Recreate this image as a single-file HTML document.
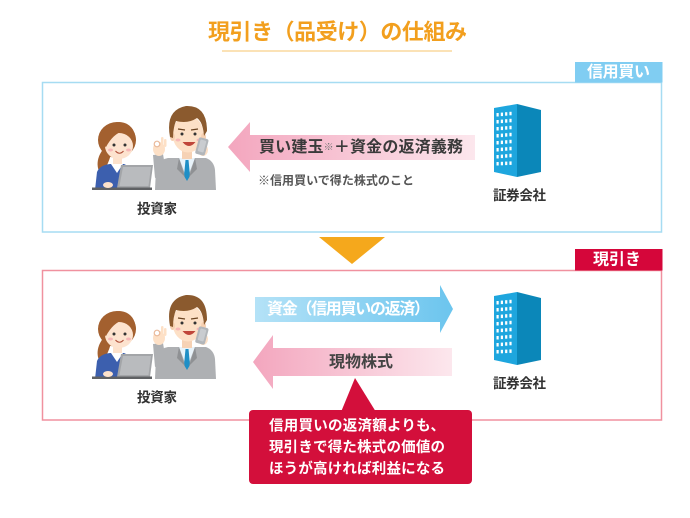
<!DOCTYPE html>
<html><head><meta charset="utf-8">
<style>
html,body{margin:0;padding:0;background:#fff;}
svg{display:block;}
text{font-family:"Liberation Sans","Noto Sans CJK JP",sans-serif;font-weight:bold;}
</style></head><body>
<svg width="690" height="518" viewBox="0 0 690 518" xmlns="http://www.w3.org/2000/svg">
<defs>
<linearGradient id="pk" x1="0" x2="1" y1="0" y2="0"><stop offset="0" stop-color="#f3a6be"/><stop offset="1" stop-color="#fce7ed"/></linearGradient>
<linearGradient id="bl" x1="0" x2="1" y1="0" y2="0"><stop offset="0" stop-color="#b4e2f7"/><stop offset="1" stop-color="#6cc5ee"/></linearGradient>
<g id="people">
  <!-- woman -->
  <path d="M106,146 C97,155 95,166 101,175 C105,170 109,162 111,154 Z" fill="#a3602f"/>
  <ellipse cx="117" cy="140" rx="19" ry="18" fill="#a3602f"/>
  <path d="M95,190 L97,172 Q100,165 110,164 L124,164 Q129,166 129,173 L129,190 Z" fill="#3c5fae"/>
  <rect x="113" y="156" width="9" height="9" fill="#fde2cc"/>
  <path d="M111,164 L117,173 L123,164 Z" fill="#ffffff"/>
  <ellipse cx="119" cy="146" rx="14" ry="13" fill="#fde3cf"/>
  <path d="M101,144 Q103,123 119,122 Q135,123 136,141 Q131,133 123,131 Q113,134 106,147 Z" fill="#a3602f"/>
  <circle cx="114" cy="145" r="1.5" fill="#333"/>
  <circle cx="125" cy="145" r="1.5" fill="#333"/>
  <ellipse cx="110.5" cy="150" rx="2.5" ry="1.5" fill="#f7b7b7"/>
  <ellipse cx="128.5" cy="150" rx="2.5" ry="1.5" fill="#f7b7b7"/>
  <path d="M115.5,151 Q119.5,155.5 123.5,151" stroke="#b0503a" stroke-width="1.1" fill="none"/>
  <polygon points="121,165 153,165 150,188 117,188" fill="#a3a5a8"/>
  <polygon points="123,167 151,167 148.5,186 119.5,186" fill="#b9bbbe"/>
  <rect x="92" y="187.5" width="60" height="2.5" fill="#5f6164"/>
  <ellipse cx="108" cy="185" rx="5" ry="3" fill="#fde2cc"/>
  <!-- man -->
  <path d="M155,190 L156,168 Q158,160 168,158 L206,158 Q214,161 215,170 L216,190 Z" fill="#aeb0b3"/>
  <polygon points="179,158 195,158 187,179" fill="#e8f3fa"/>
  <polygon points="185.5,160 188.5,160 190,176 187,181 184,176" fill="#1f8fc6"/>
  <path d="M179,158 L185,177 L177,169 Z" fill="#8f9194"/>
  <path d="M195,158 L189,177 L197,169 Z" fill="#8f9194"/>
  <rect x="182" y="149" width="10" height="10" fill="#f6d2b5"/>
  <path d="M155,178 L153,155 L163,154 L166,172 Z" fill="#aeb0b3"/>
  <ellipse cx="159" cy="149" rx="6" ry="7" fill="#fde0c6"/>
  <circle cx="157" cy="144" r="2.8" fill="#fff" stroke="#e9b99a" stroke-width="1.2"/>
  <rect x="161" y="137" width="2.5" height="8" rx="1.2" fill="#fde0c6"/>
  <rect x="164" y="139" width="2.5" height="8" rx="1.2" fill="#fde0c6"/>
  <ellipse cx="188" cy="134" rx="15.5" ry="18.5" fill="#fde0c6"/>
  <ellipse cx="172.5" cy="137" rx="2.5" ry="4" fill="#f6d0b2"/>
  <ellipse cx="203.5" cy="137" rx="2.5" ry="4" fill="#f6d0b2"/>
  <path d="M170,137 Q165,110 186,106 Q207,105 207,131 L204,136 Q203,122 197,118 Q188,124 176,121 Q173,128 173,138 Z" fill="#8b5a2e"/>
  <path d="M178,129 L185,130" stroke="#6b4422" stroke-width="1.2"/>
  <path d="M191,130 L198,129" stroke="#6b4422" stroke-width="1.2"/>
  <circle cx="182" cy="134" r="1.5" fill="#333"/>
  <circle cx="195" cy="134" r="1.5" fill="#333"/>
  <ellipse cx="178" cy="140" rx="2.5" ry="1.5" fill="#f7b7b7"/>
  <ellipse cx="199" cy="140" rx="2.5" ry="1.5" fill="#f7b7b7"/>
  <path d="M182.5,142 Q189,150 195.5,142 Z" fill="#c0463a"/>
  <ellipse cx="203" cy="150" rx="5" ry="6" fill="#fde0c6"/>
  <rect x="197" y="138" width="10" height="17" rx="2" fill="#b2b6ba" transform="rotate(15 202 146)"/>
  <rect x="199" y="140" width="6" height="12" rx="1" fill="#c9ccd0" transform="rotate(15 202 146)"/>
</g>
<g id="bldg">
  <polygon points="494,108 517,104 517,177 494,172" fill="#1ea6de"/>
  <polygon points="517,104 541,110 541,172 517,177" fill="#0b87b9"/>
  <g fill="#ffffff">
    <rect x="496.5" y="113" width="2.2" height="3.5"/><rect x="500.8" y="112.6" width="2.2" height="3.5"/><rect x="505.1" y="112.2" width="2.2" height="3.5"/><rect x="509.4" y="111.8" width="2.2" height="3.5"/>
    <rect x="496.5" y="120" width="2.2" height="3.5"/><rect x="500.8" y="119.6" width="2.2" height="3.5"/><rect x="505.1" y="119.2" width="2.2" height="3.5"/><rect x="509.4" y="118.8" width="2.2" height="3.5"/>
    <rect x="496.5" y="127" width="2.2" height="3.5"/><rect x="500.8" y="126.6" width="2.2" height="3.5"/><rect x="505.1" y="126.2" width="2.2" height="3.5"/><rect x="509.4" y="125.8" width="2.2" height="3.5"/>
    <rect x="496.5" y="134" width="2.2" height="3.5"/><rect x="500.8" y="133.6" width="2.2" height="3.5"/><rect x="505.1" y="133.2" width="2.2" height="3.5"/><rect x="509.4" y="132.8" width="2.2" height="3.5"/>
    <rect x="496.5" y="141" width="2.2" height="3.5"/><rect x="500.8" y="140.6" width="2.2" height="3.5"/><rect x="505.1" y="140.2" width="2.2" height="3.5"/><rect x="509.4" y="139.8" width="2.2" height="3.5"/>
    <rect x="496.5" y="148" width="2.2" height="3.5"/><rect x="500.8" y="147.6" width="2.2" height="3.5"/><rect x="505.1" y="147.2" width="2.2" height="3.5"/><rect x="509.4" y="146.8" width="2.2" height="3.5"/>
    <rect x="496.5" y="155" width="2.2" height="3.5"/><rect x="500.8" y="154.6" width="2.2" height="3.5"/><rect x="505.1" y="154.2" width="2.2" height="3.5"/><rect x="509.4" y="153.8" width="2.2" height="3.5"/>
    <rect x="496.5" y="162" width="2.2" height="3.5"/><rect x="500.8" y="161.8" width="2.2" height="3.5"/><rect x="505.1" y="161.6" width="2.2" height="3.5"/><rect x="509.4" y="161.4" width="2.2" height="3.5"/>
  </g>
</g>
</defs>

<!-- Title -->
<text x="337.5" y="32" text-anchor="middle" dominant-baseline="central" font-size="22" fill="#f29f1e" textLength="259">現引き（品受け）の仕組み</text>
<line x1="222" y1="51" x2="452" y2="51" stroke="#f7c46c" stroke-width="1"/>

<!-- Box 1 -->
<rect x="42.5" y="82.5" width="619" height="149.5" fill="#ffffff" stroke="#a6dcf2" stroke-width="1.5"/>
<rect x="575" y="62" width="87.5" height="20.5" fill="#80cdf2"/>
<text x="618.5" y="72.5" text-anchor="middle" dominant-baseline="central" font-size="16" fill="#ffffff" textLength="63">信用買い</text>

<polygon points="228,147 250,122 250,135 475,135 475,160 250,160 250,172" fill="url(#pk)"/>
<text x="259" y="147.5" dominant-baseline="central" font-size="16" fill="#3a3a3a" textLength="204">買い建玉<tspan font-size="10" font-weight="normal" fill="#777">※</tspan>＋資金の返済義務</text>
<text x="258" y="180.5" dominant-baseline="central" font-size="12" fill="#555555" textLength="156">※信用買いで得た株式のこと</text>

<use href="#people"/>
<text x="157" y="209" text-anchor="middle" dominant-baseline="central" font-size="13.5" fill="#333333" textLength="40">投資家</text>

<use href="#bldg"/>
<text x="519.5" y="195.5" text-anchor="middle" dominant-baseline="central" font-size="13.5" fill="#333333" textLength="53">証券会社</text>

<!-- Orange arrow -->
<polygon points="319,237 385,237 352,264" fill="#f5a81c"/>

<!-- Box 2 -->
<rect x="42.5" y="270.5" width="619" height="149.5" fill="#ffffff" stroke="#f0919f" stroke-width="1.5"/>
<rect x="575" y="249" width="87.5" height="21.5" fill="#d5063a"/>
<text x="617" y="260" text-anchor="middle" dominant-baseline="central" font-size="16" fill="#ffffff" textLength="48">現引き</text>

<polygon points="255,297 440,297 440,285 453,309 440,333 440,322 255,322" fill="url(#bl)"/>
<text x="267" y="309.5" dominant-baseline="central" font-size="16" fill="#ffffff" textLength="163">資金（信用買いの返済）</text>

<polygon points="253,362 273,335 273,348 452,348 452,376 273,376 273,389" fill="url(#pk)"/>
<text x="361" y="362.5" text-anchor="middle" dominant-baseline="central" font-size="16" fill="#444444" textLength="64">現物株式</text>

<use href="#people" transform="translate(0,189)"/>
<text x="157" y="397.5" text-anchor="middle" dominant-baseline="central" font-size="13.5" fill="#333333" textLength="40">投資家</text>

<use href="#bldg" transform="translate(0,188)"/>
<text x="519.5" y="383.5" text-anchor="middle" dominant-baseline="central" font-size="13.5" fill="#333333" textLength="53">証券会社</text>

<!-- Callout -->
<polygon points="341,412 355,378 376,412" fill="#d30f3b"/>
<rect x="249" y="410" width="223" height="74" rx="4" fill="#d30f3b"/>
<text x="269" y="426.5" dominant-baseline="central" font-size="14.5" fill="#ffffff" textLength="176">信用買いの返済額よりも、</text>
<text x="269" y="448" dominant-baseline="central" font-size="14.5" fill="#ffffff" textLength="176">現引きで得た株式の価値の</text>
<text x="269" y="469.5" dominant-baseline="central" font-size="14.5" fill="#ffffff" textLength="176">ほうが高ければ利益になる</text>
</svg>
</body></html>
